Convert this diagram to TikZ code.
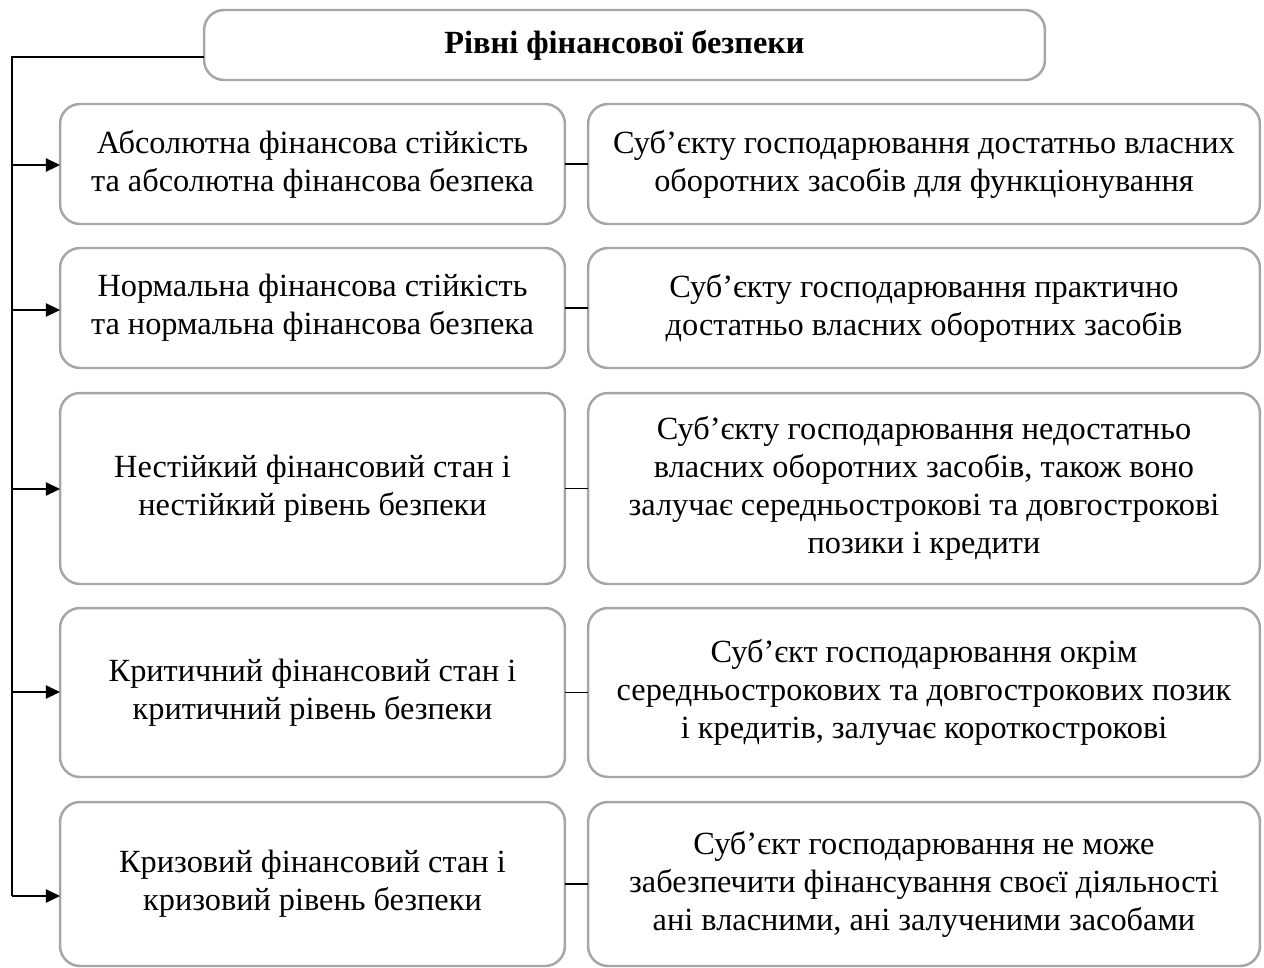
\documentclass[tikz,border=0pt]{standalone}
\usepackage{fontspec}
\setmainfont{Liberation Serif}
\usetikzlibrary{arrows.meta}
\begin{document}
\begin{tikzpicture}[x=0.02cm,y=-0.02cm,
  box/.style={draw=black!35, line width=1.4pt, rounded corners=0.4cm, inner sep=0pt, outer sep=0pt,
    align=center, font=\fontsize{18.4}{21.6}\selectfont},
  lbox/.style={box, minimum width=10.1cm},
  rbox/.style={box, minimum width=13.44cm},
  conn/.style={draw=black, line width=0.8pt},
  arr/.style={conn, -{Triangle[length=8pt,width=7.5pt]}}]
\useasboundingbox (0,0) rectangle (1264,967);
\node[box, minimum width=16.82cm, minimum height=1.4cm, font=\fontsize{18.4}{21.6}\selectfont\bfseries] (title) at (624.5,45) {Рівні фінансової безпеки};

\node[lbox, minimum height=2.4cm] (L1) at (312.5,164) {Абсолютна фінансова стійкість\\та абсолютна фінансова безпека};
\node[rbox, minimum height=2.4cm] (R1) at (924,164) {Суб’єкту господарювання достатньо власних\\оборотних засобів для функціонування};

\node[lbox, minimum height=2.4cm] (L2) at (312.5,308) {Нормальна фінансова стійкість\\та нормальна фінансова безпека};
\node[rbox, minimum height=2.4cm] (R2) at (924,308) {Суб’єкту господарювання практично\\достатньо власних оборотних засобів};

\node[lbox, minimum height=3.82cm] (L3) at (312.5,488.5) {Нестійкий фінансовий стан і\\нестійкий рівень безпеки};
\node[rbox, minimum height=3.82cm] (R3) at (924,488.5) {Суб’єкту господарювання недостатньо\\власних оборотних засобів, також воно\\залучає середньострокові та довгострокові\\позики і кредити};

\node[lbox, minimum height=3.38cm] (L4) at (312.5,692.5) {Критичний фінансовий стан і\\критичний рівень безпеки};
\node[rbox, minimum height=3.38cm] (R4) at (924,692.5) {Суб’єкт господарювання окрім\\середньострокових та довгострокових позик\\і кредитів, залучає короткострокові};

\node[lbox, minimum height=3.28cm] (L5) at (312.5,884) {Кризовий фінансовий стан і\\кризовий рівень безпеки};
\node[rbox, minimum height=3.28cm] (R5) at (924,884) {Суб’єкт господарювання не може\\забезпечити фінансування своєї діяльності\\ані власними, ані залученими засобами};

\coordinate (top) at (12,57);
\coordinate (t1) at (12,165);
\coordinate (t2) at (12,310);
\coordinate (t3) at (12,489);
\coordinate (t4) at (12,692);
\coordinate (t5) at (12,896);

\draw[conn] (title.west |- top) -- (top) -- (t5);
\draw[arr] (t1) -- (t1 -| L1.west);
\draw[arr] (t2) -- (t2 -| L2.west);
\draw[arr] (t3) -- (t3 -| L3.west);
\draw[arr] (t4) -- (t4 -| L4.west);
\draw[arr] (t5) -- (t5 -| L5.west);

\draw[conn] (L1.east) -- (R1.west);
\draw[conn] (L2.east) -- (R2.west);
\draw[conn] (L3.east) -- (R3.west);
\draw[conn] (L4.east) -- (R4.west);
\draw[conn] (L5.east) -- (R5.west);
\end{tikzpicture}
\end{document}
